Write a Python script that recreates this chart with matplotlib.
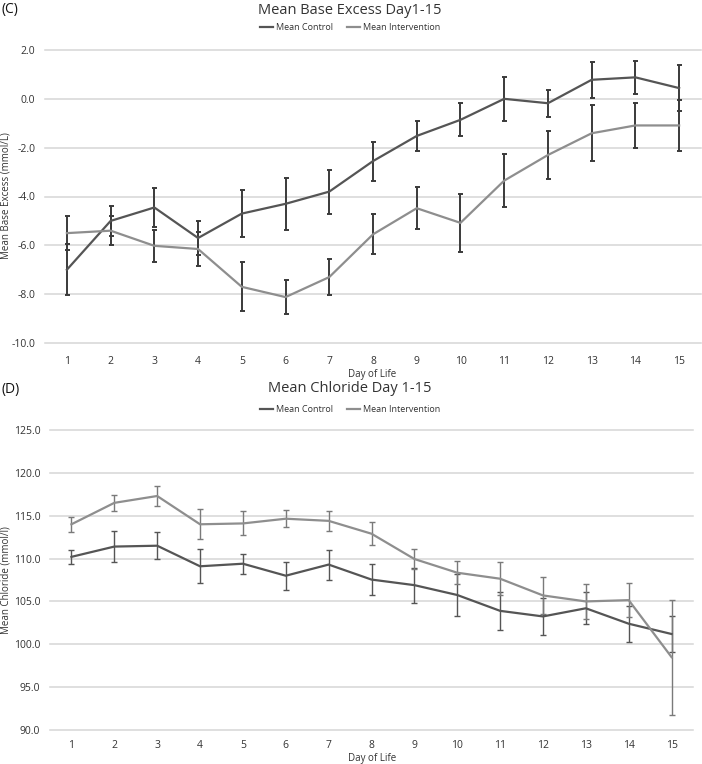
import matplotlib.pyplot as plt
import numpy as np

plt.rcParams['font.family'] = ['Open Sans', 'DejaVu Sans']

days = list(range(1, 16))

# (C) base excess
be_control = [-7.0, -5.0, -4.45, -5.7, -4.7, -4.3, -3.8, -2.55, -1.52, -0.86, 0.0, -0.18, 0.78, 0.88, 0.44]
be_control_err = [1.05, 0.6, 0.8, 0.7, 0.96, 1.07, 0.9, 0.8, 0.63, 0.68, 0.9, 0.55, 0.73, 0.67, 0.94]
be_interv = [-5.5, -5.4, -6.02, -6.15, -7.7, -8.12, -7.3, -5.55, -4.48, -5.08, -3.35, -2.3, -1.41, -1.09, -1.09]
be_interv_err = [0.7, 0.6, 0.65, 0.7, 1.0, 0.7, 0.72, 0.82, 0.85, 1.2, 1.1, 1.0, 1.15, 0.93, 1.03]

# (D) chloride
cl_control = [110.2, 111.4, 111.5, 109.1, 109.4, 108.0, 109.3, 107.55, 106.9, 105.75, 103.9, 103.25, 104.2, 102.4, 101.2]
cl_control_err = [0.82, 1.83, 1.6, 2.0, 1.15, 1.65, 1.75, 1.8, 2.05, 2.45, 2.2, 2.2, 1.85, 2.1, 2.05]
cl_interv = [114.0, 116.5, 117.3, 114.0, 114.1, 114.65, 114.4, 112.9, 109.95, 108.35, 107.65, 105.7, 105.0, 105.15, 98.5]
cl_interv_err = [0.9, 0.95, 1.15, 1.75, 1.4, 1.0, 1.15, 1.35, 1.2, 1.33, 1.9, 2.2, 2.05, 1.95, 6.7]

dark = '#555555'
light = '#8e8e8e'
grid_c = '#d6d6d6'
txt = '#333333'

fig = plt.figure(figsize=(7.02, 7.64), dpi=100)
W, H = 702, 764


def px_axes(l, t, r, b):
    return fig.add_axes([l / W, 1 - b / H, (r - l) / W, (b - t) / H])


def ftext(x, y, s, **kw):
    # place text in reference pixel coords (from top-left)
    return fig.text(x / W, 1 - y / H, s, **kw)


def style(ax, ymin, ymax, step, xpad, ypad):
    ax.set_xlim(0.5, 15.5)
    ax.set_ylim(ymin, ymax)
    ticks = np.arange(ymin, ymax + step / 2, step)
    ax.set_yticks(ticks)
    ax.set_yticklabels([f'{v:.1f}' for v in ticks])
    ax.set_xticks(days)
    for s in ax.spines.values():
        s.set_visible(False)
    ax.grid(axis='y', color=grid_c, lw=1.1, clip_on=False)
    ax.set_axisbelow(True)
    ax.tick_params(length=0, labelsize=7.5, labelcolor=txt)
    ax.tick_params(axis='x', pad=xpad)
    ax.tick_params(axis='y', pad=ypad)


# top panel
ax1 = px_axes(45, 50, 701, 343)
ax1.errorbar(days, be_control, yerr=be_control_err, color=dark, lw=1.6,
             ecolor='#3a3a3a', elinewidth=1.4, capsize=1.8, capthick=1.4, label='Mean Control')
ax1.errorbar(days, be_interv, yerr=be_interv_err, color=light, lw=1.6,
             ecolor='#3a3a3a', elinewidth=1.4, capsize=1.8, capthick=1.4, label='Mean Intervention')
style(ax1, -10, 2, 2, 9, 7)

# bottom panel
ax2 = px_axes(50, 430, 693, 730)
ax2.errorbar(days, cl_control, yerr=cl_control_err, color=dark, lw=1.6,
             ecolor=dark, elinewidth=1.0, capsize=2, capthick=1.0, label='Mean Control')
ax2.errorbar(days, cl_interv, yerr=cl_interv_err, color=light, lw=1.6,
             ecolor='#7a7a7a', elinewidth=1.0, capsize=2, capthick=1.0, label='Mean Intervention')
style(ax2, 90, 125, 5, 7, 7)

# axis labels
ftext(372, 374, 'Day of Life', fontsize=7, color=txt, ha='center', va='center')
ftext(372, 758, 'Day of Life', fontsize=7, color=txt, ha='center', va='center')
ftext(6, 196, 'Mean Base Excess (mmol/L)', fontsize=7, color=txt, rotation=90, ha='center', va='center')
ftext(6, 580, 'Mean Chloride (mmol/l)', fontsize=7, color=txt, rotation=90, ha='center', va='center')

# panel letters, titles, legends
ftext(2, 10, '(C)', fontsize=10, color='#111111', va='center', ha='left')
ftext(350, 10, 'Mean Base Excess Day1-15', fontsize=10.5, color=txt, va='center', ha='center')
ftext(2, 389, '(D)', fontsize=10, color='#111111', va='center', ha='left')
ftext(350, 389, 'Mean Chloride Day 1-15', fontsize=10.5, color=txt, va='center', ha='center')

for ax, ypix in [(ax1, 28), (ax2, 410)]:
    h, l = ax.get_legend_handles_labels()
    h = [hh[0] for hh in h]
    fig.legend(h, l, loc='center', bbox_to_anchor=(350 / W, 1 - ypix / H), ncol=2,
               frameon=False, fontsize=6.5, handlelength=1.5, handletextpad=0.3,
               columnspacing=1.5, labelcolor=txt)

fig.savefig('out.png', dpi=100)
